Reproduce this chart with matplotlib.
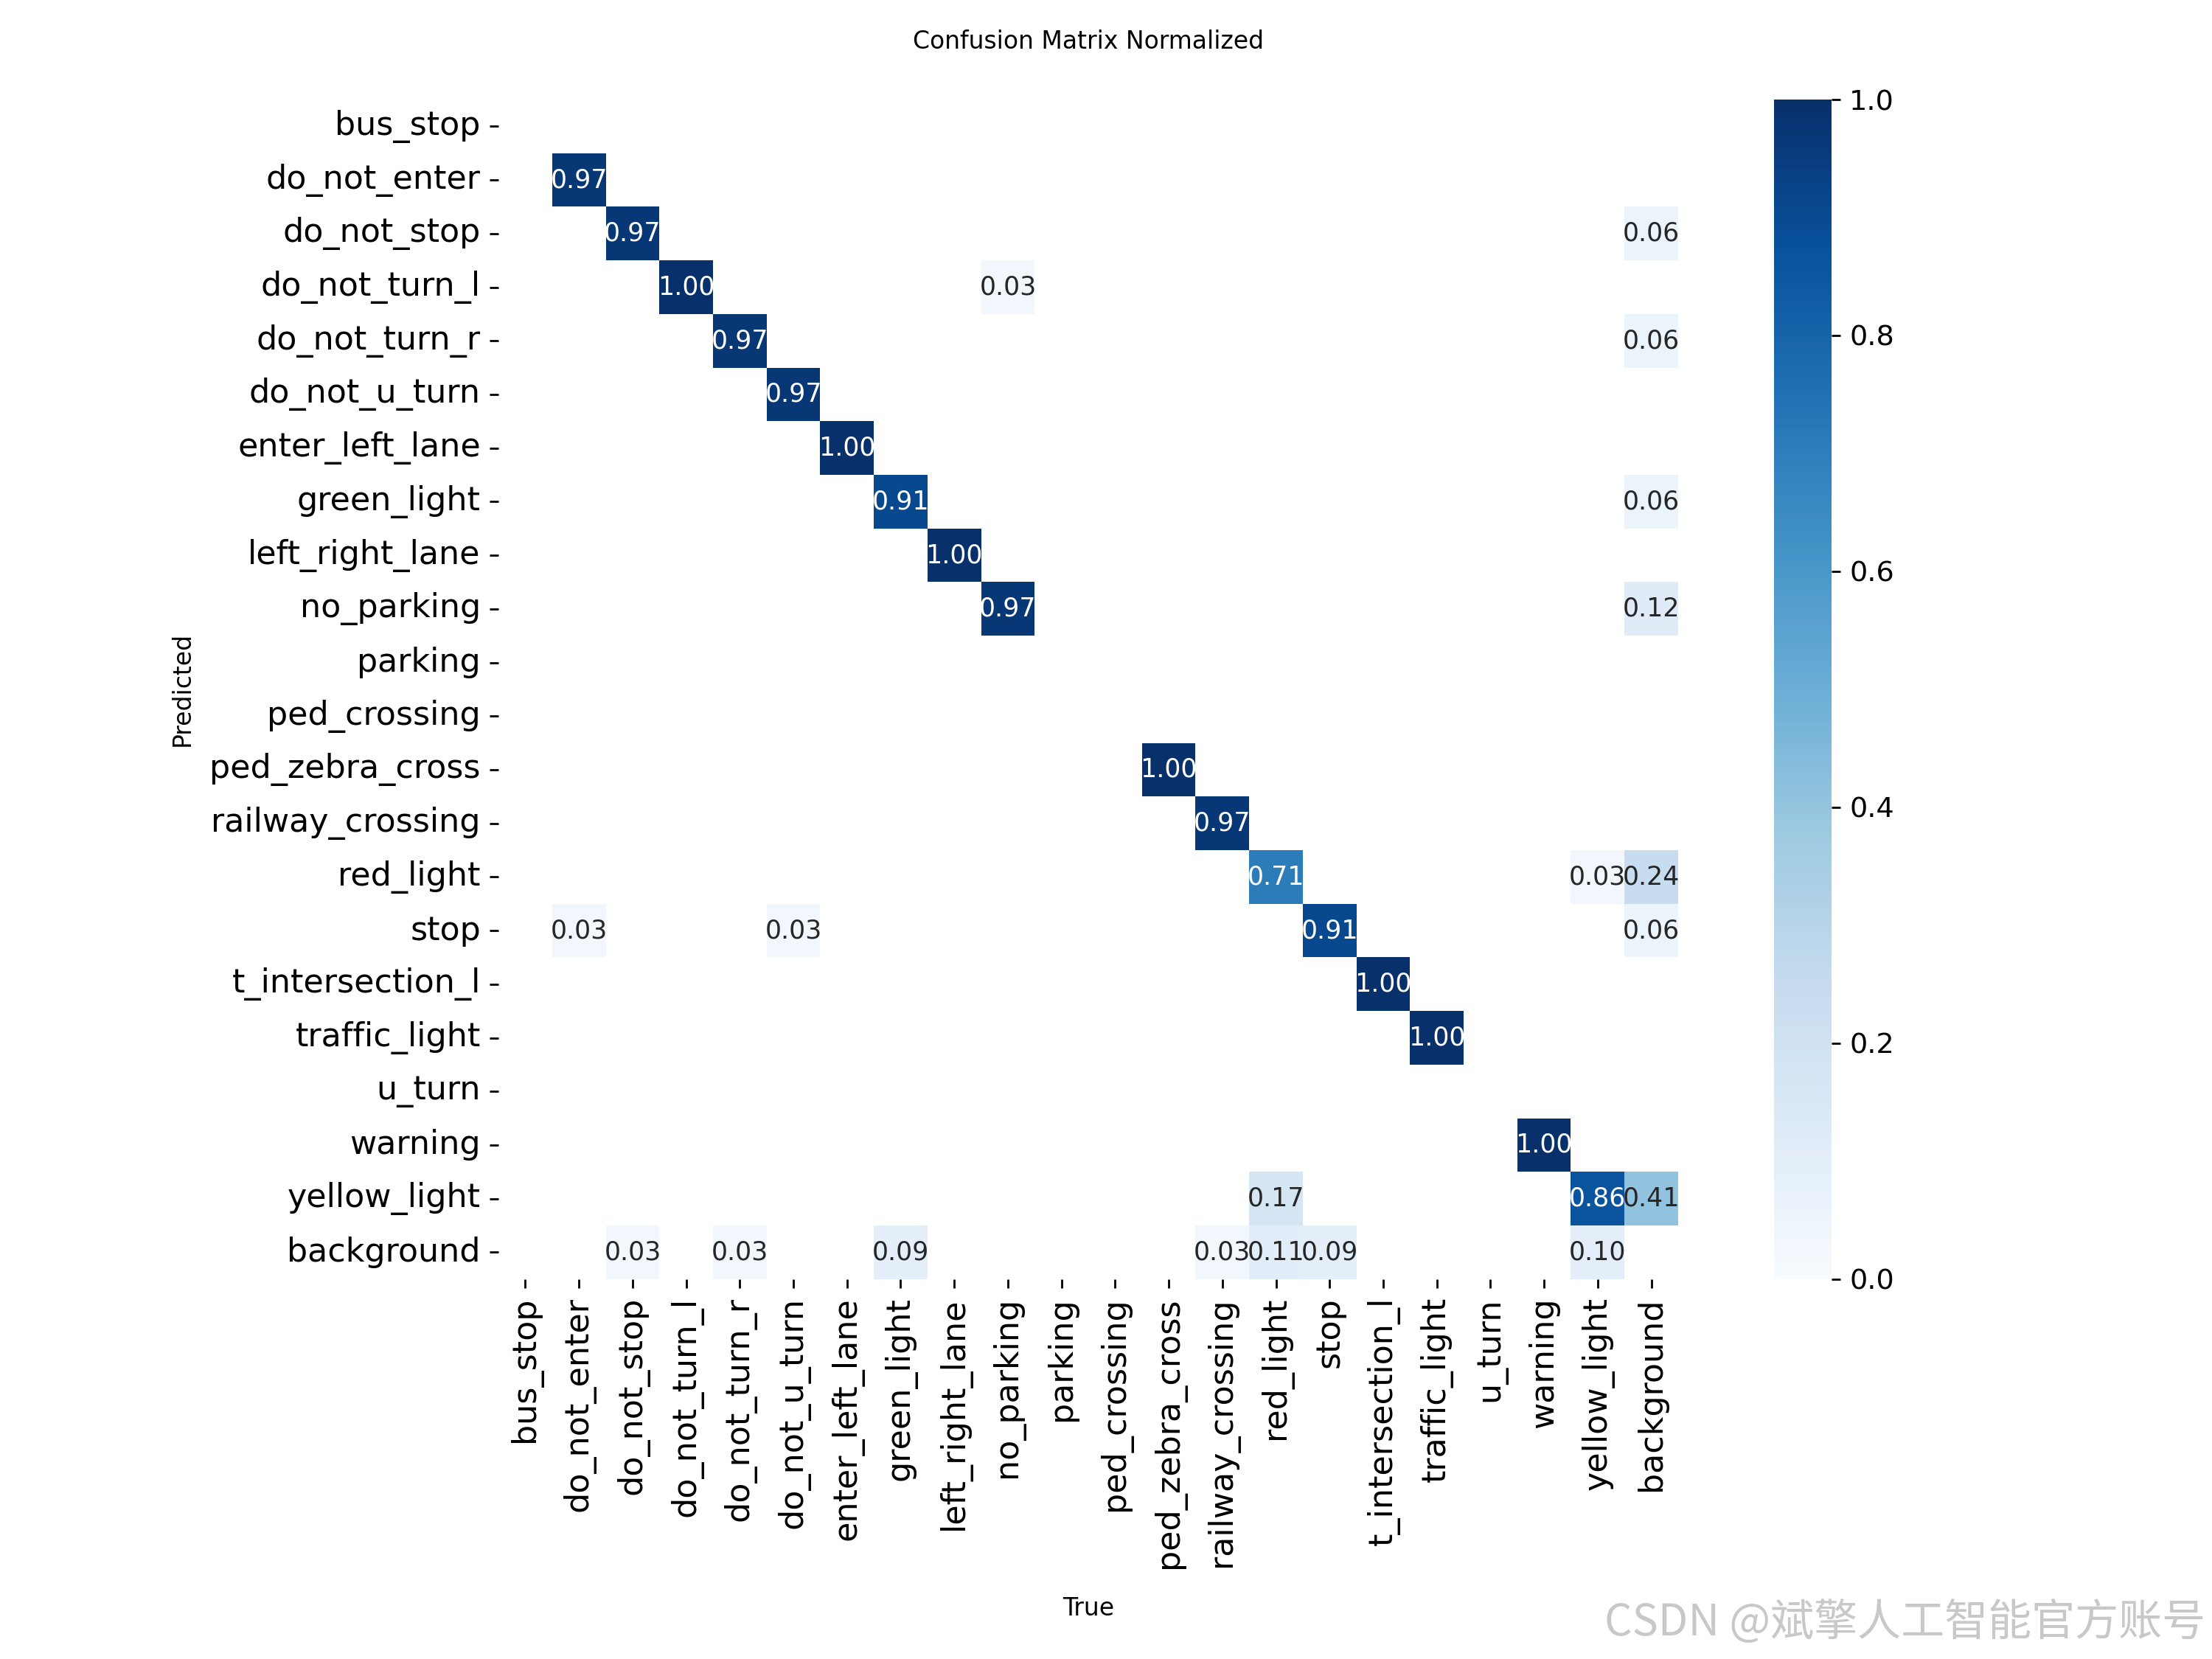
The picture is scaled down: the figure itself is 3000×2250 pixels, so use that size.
import numpy as np
import matplotlib
matplotlib.use("Agg")
import matplotlib.pyplot as plt
import seaborn as sns

names = ["bus_stop", "do_not_enter", "do_not_stop", "do_not_turn_l", "do_not_turn_r",
         "do_not_u_turn", "enter_left_lane", "green_light", "left_right_lane", "no_parking",
         "parking", "ped_crossing", "ped_zebra_cross", "railway_crossing", "red_light", "stop",
         "t_intersection_l", "traffic_light", "u_turn", "warning", "yellow_light", "background"]

# (predicted row, true col, value)
cells = [
    (1, 1, 0.97), (2, 2, 0.97), (2, 21, 0.06), (3, 3, 1.00), (3, 9, 0.03),
    (4, 4, 0.97), (4, 21, 0.06), (5, 5, 0.97), (6, 6, 1.00), (7, 7, 0.91), (7, 21, 0.06),
    (8, 8, 1.00), (9, 9, 0.97), (9, 21, 0.12), (12, 12, 1.00), (13, 13, 0.97),
    (14, 14, 0.71), (14, 20, 0.03), (14, 21, 0.24),
    (15, 1, 0.03), (15, 5, 0.03), (15, 15, 0.91), (15, 21, 0.06),
    (16, 16, 1.00), (17, 17, 1.00), (19, 19, 1.00),
    (20, 14, 0.17), (20, 20, 0.86), (20, 21, 0.41),
    (21, 2, 0.03), (21, 4, 0.03), (21, 7, 0.09), (21, 13, 0.03), (21, 14, 0.11),
    (21, 15, 0.09), (21, 20, 0.10),
]

n = len(names)
array = np.full((n, n), np.nan)
for r, c, v in cells:
    array[r, c] = v

fig = plt.figure(figsize=(12, 9), dpi=250)
ax = fig.add_axes([0.225, 0.229, 0.534, 0.711])
cax = fig.add_axes([0.802, 0.229, 0.026, 0.711])
hm = sns.heatmap(array, ax=ax, cbar_ax=cax, annot=True, annot_kws={"size": 10}, cmap="Blues",
                 fmt=".2f", square=True, vmin=0.0, vmax=1.0, xticklabels=names, yticklabels=names)
hm.set_facecolor((1, 1, 1))
ax.tick_params(labelsize=12.8)
cax.tick_params(labelsize=11)
ax.set_xlabel("True", fontsize=9.5, labelpad=11)
ax.set_ylabel("Predicted", fontsize=9.5, labelpad=6)
ax.set_title("Confusion Matrix Normalized", fontsize=9.5, pad=20)
fig.text(0.997, 0.008, "CSDN @斌擎人工智能官方账号", ha="right", va="bottom", fontsize=17,
         color="#c8c8c8", family=["Noto Sans CJK SC", "DejaVu Sans"])
fig.savefig("out.png")
